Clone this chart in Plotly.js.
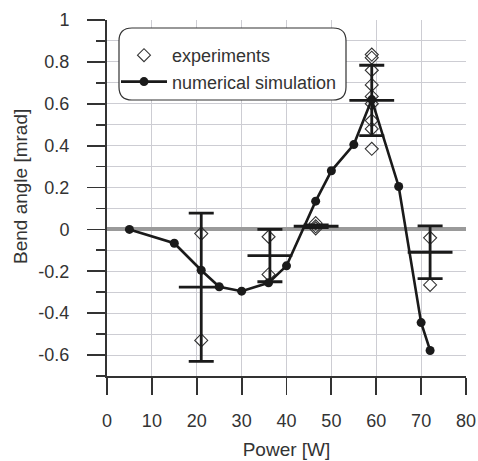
<!DOCTYPE html>
<html>
<head>
<meta charset="utf-8">
<script src="https://cdn.plot.ly/plotly-3.0.1.min.js"></script>
<style>html,body{margin:0;padding:0;background:#fff;}#chart{width:478px;height:461px;}</style>
</head>
<body>
<div id="chart"></div>
<script>
// Experiments (individual measurements)
var expX = [21, 21, 36, 36, 46.5, 46.5, 46.5, 59, 59, 59, 59, 59, 59, 59, 59, 59, 72, 72];
var expY = [-0.02, -0.53, -0.035, -0.215, 0.03, 0.015, 0.005, 0.835, 0.82, 0.76, 0.69, 0.635, 0.60, 0.52, 0.48, 0.385, -0.04, -0.265];
// Experiment means with error bars
var errX = [21, 36.3, 46.6, 59, 72];
var errMean = [-0.276, -0.125, 0.015, 0.616, -0.109];
var errHalf = [0.354, 0.125, 0.006, 0.168, 0.126];
// Numerical simulation
var simX = [5, 15, 21, 25, 30, 36, 40, 46.5, 50, 55, 59, 65, 70, 72];
var simY = [0, -0.066, -0.195, -0.274, -0.295, -0.255, -0.174, 0.135, 0.28, 0.405, 0.62, 0.205, -0.445, -0.578];
// Tick labels
var xTicks = [0, 10, 20, 30, 40, 50, 60, 70, 80];
var yTicks = [-0.6, -0.4, -0.2, 0, 0.2, 0.4, 0.6, 0.8, 1];
var yTickText = ['-0.6', '-0.4', '-0.2', '0', '0.2', '0.4', '0.6', '0.8', '1'];

var dark = '#1a1a1a';
var traces = [
  {x: expX, y: expY, type: 'scatter', mode: 'markers', name: 'experiments',
   marker: {symbol: 'diamond-open', size: 10, color: '#333', line: {width: 1.1, color: '#333'}}},
  {x: errX, y: errMean, type: 'scatter', mode: 'markers', showlegend: false,
   marker: {symbol: 'line-ew', size: 32, line: {width: 2.8, color: dark}},
   error_y: {type: 'data', array: errHalf, visible: true, color: dark, thickness: 2.8, width: 12.5}},
  {x: simX, y: simY, type: 'scatter', mode: 'lines+markers', name: 'numerical simulation',
   line: {color: dark, width: 2.6}, marker: {symbol: 'circle', size: 9, color: dark}}
];

var L = 107, R = 466, T = 20, B = 376;
function pxX(p){return (p - L) / (R - L);}
function pxY(p){return (B - p) / (B - T);}
var bx0 = pxX(119), bx1 = pxX(346), by0 = pxY(100), by1 = pxY(28);
var rx = 13 / (R - L), ry = 13 / (B - T);
var boxPath = 'M' + (bx0 + rx) + ',' + by1 +
  ' L' + (bx1 - rx) + ',' + by1 + ' Q' + bx1 + ',' + by1 + ' ' + bx1 + ',' + (by1 - ry) +
  ' L' + bx1 + ',' + (by0 + ry) + ' Q' + bx1 + ',' + by0 + ' ' + (bx1 - rx) + ',' + by0 +
  ' L' + (bx0 + rx) + ',' + by0 + ' Q' + bx0 + ',' + by0 + ' ' + bx0 + ',' + (by0 + ry) +
  ' L' + bx0 + ',' + (by1 - ry) + ' Q' + bx0 + ',' + by1 + ' ' + (bx0 + rx) + ',' + by1 + ' Z';

var fam = 'Liberation Sans, Arial, sans-serif';
var font = {family: fam, size: 18, color: '#333'};
var layout = {
  width: 478, height: 461,
  margin: {l: L, r: 478 - R, t: T, b: 461 - B},
  paper_bgcolor: '#fff', plot_bgcolor: '#fff',
  font: font,
  showlegend: true,
  legend: {x: pxX(116), y: pxY(37), xanchor: 'left', yanchor: 'top', bgcolor: 'rgba(0,0,0,0)',
           borderwidth: 0, font: {family: fam, size: 18, color: '#333'}, itemwidth: 46, tracegroupgap: 0},
  xaxis: {range: [0, 80], tickmode: 'array', tickvals: xTicks, ticktext: xTicks.map(String), ticks: 'outside', ticklen: 17, tickwidth: 1.8,
          tickcolor: '#333', showline: true, linecolor: '#333', linewidth: 2, showgrid: true,
          gridcolor: '#cdcdd3', gridwidth: 1, zeroline: false, ticklabelstandoff: 10,
          title: {text: 'Power [W]', font: {family: fam, size: 19, color: '#333'}, standoff: 13}},
  yaxis: {range: [-0.7, 1], tickmode: 'array', tickvals: yTicks, ticktext: yTickText, ticks: 'outside', ticklen: 18, tickwidth: 1.8,
          tickcolor: '#333', showline: true, linecolor: '#333', linewidth: 2, showgrid: true,
          gridcolor: '#cdcdd3', gridwidth: 1, zeroline: true, zerolinecolor: '#9a9a9a', zerolinewidth: 4,
          ticklabelstandoff: 14,
          minor: {tickmode: 'linear', dtick: 0.1, tick0: 0, ticks: 'outside', ticklen: 9, tickwidth: 1.8, tickcolor: '#333',
                  showgrid: true, gridcolor: '#cdcdd3', gridwidth: 1}},
  annotations: [{text: 'Bend angle [mrad]', xref: 'paper', yref: 'paper', x: pxX(20), y: pxY(187),
                 xanchor: 'center', yanchor: 'middle', textangle: -90, showarrow: false,
                 font: {family: fam, size: 19, color: '#333'}}],
  shapes: [{type: 'path', xref: 'paper', yref: 'paper', path: boxPath, layer: 'above',
            fillcolor: '#fff', line: {color: '#333', width: 1.2}}]
};
Plotly.newPlot('chart', traces, layout, {staticPlot: true, displayModeBar: false});
</script>
</body>
</html>
